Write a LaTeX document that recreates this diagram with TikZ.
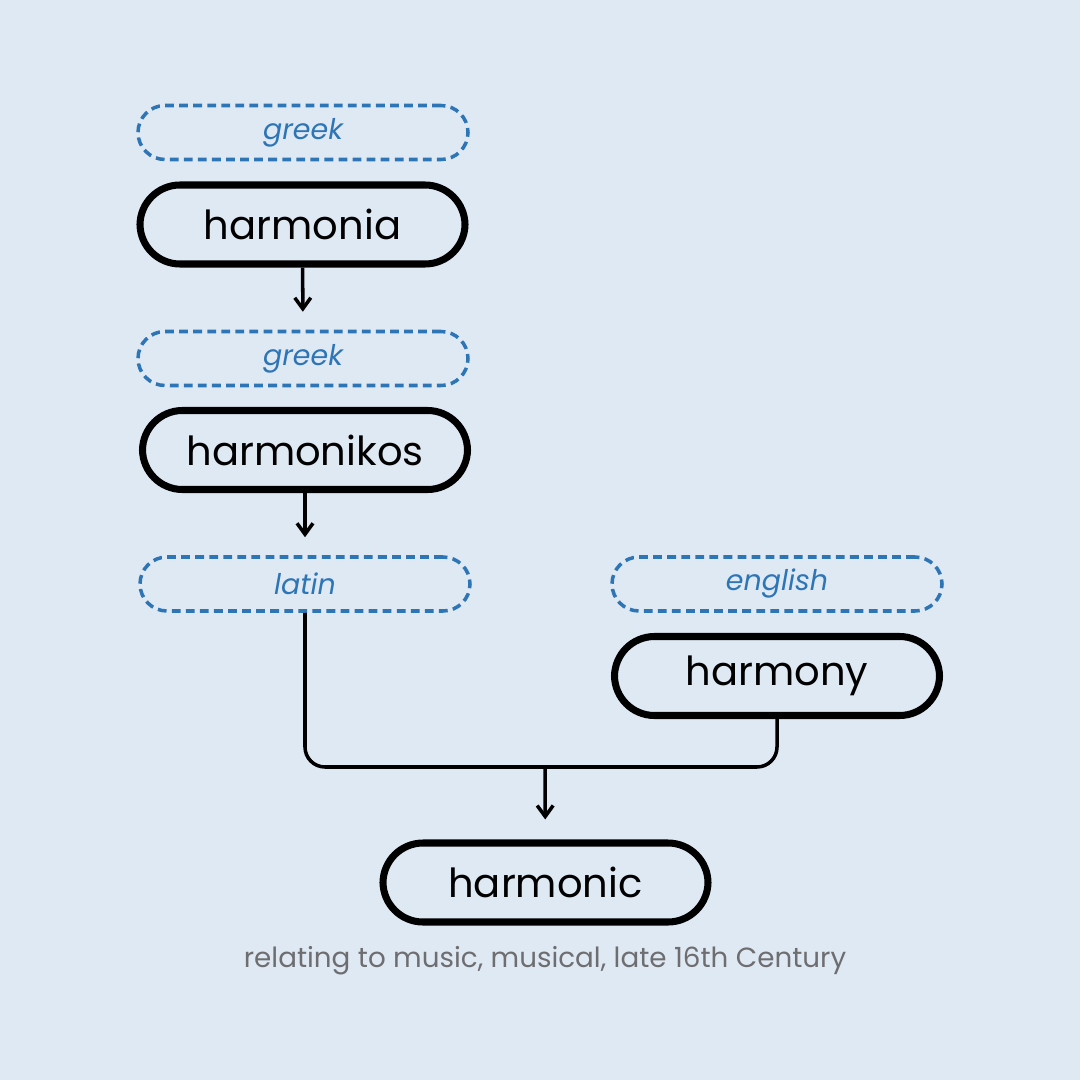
\documentclass[tikz,border=0pt]{standalone}
\usepackage{fontspec}
\setmainfont{Poppins}
\usetikzlibrary{arrows.meta, positioning}
\definecolor{paleblue}{RGB}{223,233,244}
\definecolor{tagblue}{RGB}{46,117,182}
\definecolor{notegray}{RGB}{110,110,112}

\begin{document}
\begin{tikzpicture}[
    tag/.style={draw=tagblue, dashed, dash pattern=on 2.5pt off 1.5pt, line width=1pt, rounded corners=0.27cm, minimum width=3.3cm, minimum height=0.54cm, text=tagblue, font=\fontsize{8.1}{10}\selectfont\itshape},
    word/.style={draw, line width=2pt, rounded corners=0.4cm, minimum width=3.25cm, minimum height=0.79cm, font=\fontsize{11.4}{14}\selectfont},
    arr/.style={-{Straight Barb[length=1.1mm, width=1.6mm]}, line width=1pt},
    link/.style={line width=1pt, rounded corners=0.2cm}
]
\fill[paleblue] (0,0) rectangle (10.8,-10.8);
\useasboundingbox (0,0) rectangle (10.8,-10.8);

\node[tag] (greek1) at (3.03,-1.325) {greek};
\node[word] (harmonia) at (3.025,-2.245) {harmonia};
\node[tag] (greek2) at (3.03,-3.585) {greek};
\node[word] (harmonikos) at (3.05,-4.50) {harmonikos};
\node[tag] (latin) at (3.05,-5.84) {latin};
\node[tag] (english) at (7.77,-5.84) {english};
\node[word] (harmony) at (7.77,-6.76) {harmony};
\node[word] (harmonic) at (5.455,-8.825) {harmonic};
\node[text=notegray, font=\fontsize{7.9}{10}\selectfont] (gloss) at (5.45,-9.61) {relating to music, musical, late 16th Century};
\coordinate (join) at (5.45,-7.67);

\draw[arr, shorten >=0.18cm] (harmonia) -- (greek2);
\draw[arr, shorten >=0.18cm] (harmonikos) -- (latin);
\draw[link] (latin.south) -- (latin.south |- join) -- (harmony.south |- join) -- (harmony.south);
\draw[arr, shorten >=0.2cm] (join) -- (harmonic);
\end{tikzpicture}
\end{document}
